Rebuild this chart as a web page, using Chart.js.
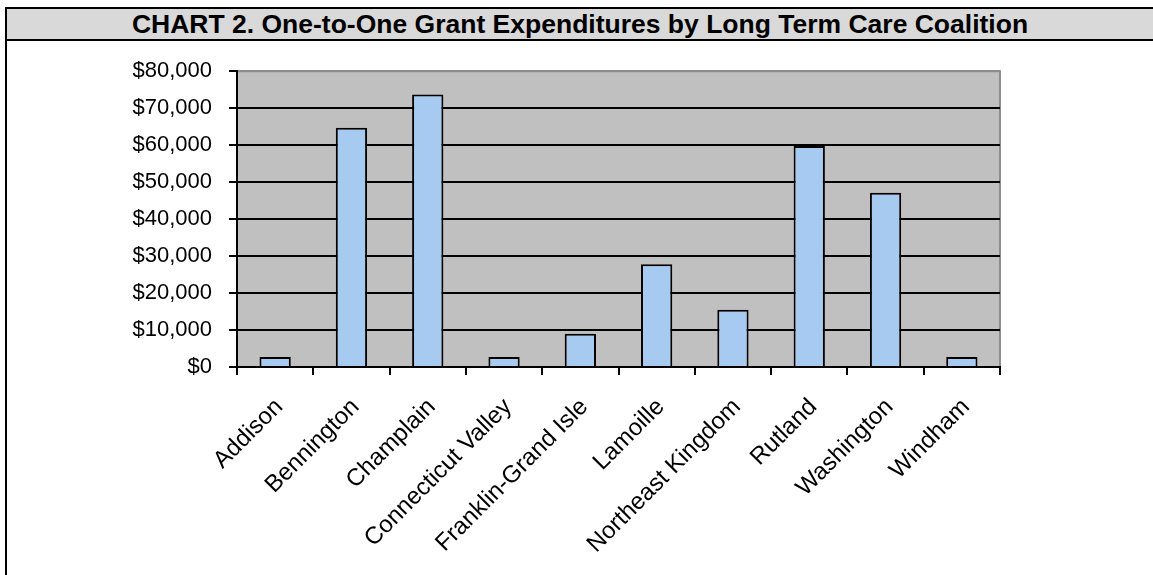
<!DOCTYPE html>
<html>
<head>
<meta charset="utf-8">
<script src="https://cdn.jsdelivr.net/npm/chart.js@4/dist/chart.umd.min.js"></script>
<style>
	body { margin: 0; width: 1153px; height: 575px; background: #fff; overflow: hidden; position: relative; }
	#title-bar {
		position: absolute; left: 5px; top: 7px; right: -10px; height: 30px;
		background: #d9d9d9; border: 2px solid #000; border-right: none;
		font: bold 26.5px "Liberation Sans", Arial, sans-serif; color: #000;
		display: flex; align-items: center; justify-content: center; padding-right: 10px;
	}
	#left-rule { position: absolute; left: 5px; top: 39px; width: 2px; height: 536px; background: #000; }
	#chart-box { position: absolute; left: 7px; top: 41px; width: 1146px; height: 534px; }
</style>
</head>
<body>
<div id="title-bar">CHART 2. One-to-One Grant Expenditures by Long Term Care Coalition</div>
<div id="left-rule"></div>
<div id="chart-box"><canvas id="grant-chart"></canvas></div>
<script>
// Dados
const coalitions = [
	"Addison",
	"Bennington",
	"Champlain",
	"Connecticut Valley",
	"Franklin-Grand Isle",
	"Lamoille",
	"Northeast Kingdom",
	"Rutland",
	"Washington",
	"Windham",
];
const expenditures = [2700, 64700, 73700, 2700, 9000, 27800, 15500, 59800, 47100, 2700];
const yTicks = [0, 10000, 20000, 30000, 40000, 50000, 60000, 70000, 80000];

const FONT = "'Liberation Sans', Arial, sans-serif";

// Fundo cinza da área do gráfico + bordas cinza em cima e à direita
const plotBackground = {
	id: "plotBackground",
	beforeDraw(chart) {
		const { ctx, chartArea: a } = chart;
		ctx.save();
		ctx.fillStyle = "#c0c0c0";
		ctx.fillRect(a.left, a.top, a.right - a.left, a.bottom - a.top);
		ctx.strokeStyle = "#8c8c8c";
		ctx.lineWidth = 2;
		ctx.beginPath();
		ctx.moveTo(a.left, a.top);
		ctx.lineTo(a.right, a.top);
		ctx.lineTo(a.right, a.bottom);
		ctx.stroke();
		ctx.restore();
	},
};

const ctx = document.getElementById("grant-chart").getContext("2d");
new Chart(ctx, {
	type: "bar",
	data: {
		labels: coalitions,
		datasets: [
			{
				label: "Expenditures",
				data: expenditures,
				backgroundColor: "#a6caf0",
				borderColor: "#000",
				borderWidth: 2,
				borderSkipped: "bottom",
				categoryPercentage: 1,
				barPercentage: 0.41,
			},
		],
	},
	options: {
		responsive: true,
		maintainAspectRatio: false,
		animation: false,
		devicePixelRatio: 1,
		layout: { padding: { left: 0, top: 29, right: 153, bottom: 0 } },
		plugins: {
			legend: { display: false },
			tooltip: { enabled: false },
		},
		scales: {
			x: {
				afterFit: (s) => { s.height = 208; },
				grid: {
					offset: true,
					drawOnChartArea: false,
					drawTicks: true,
					tickLength: 8,
					tickColor: "#000",
					lineWidth: 2,
				},
				border: { color: "#000", width: 2 },
				ticks: {
					autoSkip: false,
					maxRotation: 45,
					minRotation: 45,
					padding: 18,
					labelOffset: 4,
					color: "#000",
					font: { family: FONT, size: 24 },
				},
			},
			y: {
				min: 0,
				max: 80000,
				afterFit: (s) => { s.width = 230; },
				afterBuildTicks: (s) => { s.ticks = yTicks.map((v) => ({ value: v })); },
				grid: {
					color: (c) => (c.tick && c.tick.value === 80000 ? "#8c8c8c" : "#000"),
					tickColor: "#000",
					lineWidth: 2,
					tickLength: 8,
				},
				border: { color: "#000", width: 2 },
				ticks: {
					padding: 17,
					color: "#000",
					font: { family: FONT, size: 22 },
					callback: (v) => "$" + v.toLocaleString("en-US"),
				},
			},
		},
	},
	plugins: [plotBackground],
});
</script>
</body>
</html>
